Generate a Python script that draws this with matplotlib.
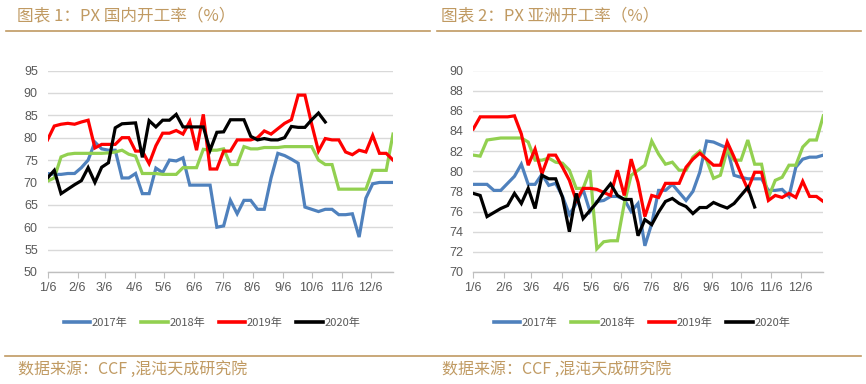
import matplotlib
matplotlib.use("Agg")
import matplotlib.pyplot as plt
from matplotlib.lines import Line2D

plt.rcParams['font.family'] = ['Noto Sans CJK SC', 'DejaVu Sans']

# ---- data ----
month_labels = ["1/6", "2/6", "3/6", "4/6", "5/6", "6/6", "7/6", "8/6", "9/6", "10/6", "11/6", "12/6"]
month_days = [6, 37, 65, 96, 126, 157, 187, 218, 249, 279, 310, 340]
years = ["2017年", "2018年", "2019年", "2020年"]
colors = ["#4f81bd", "#92d050", "#ff0000", "#000000"]

dom_2017 = [72, 71.8, 71.8, 72, 72, 73.3, 75, 79, 77.5, 77.2, 77.2, 71, 71, 72, 67.5, 67.5, 73.2, 72.2, 75, 74.8,
            75.5, 69.4, 69.4, 69.4, 69.4, 60, 60.3, 66, 63, 66, 66, 64, 64, 71, 76.5, 76, 75.2, 74.3, 64.5, 64,
            63.5, 64, 64, 62.8, 62.8, 63, 57.8, 66.5, 69.7, 70, 70, 70]
dom_2018 = [70.3, 71, 75.7, 76.3, 76.5, 76.5, 76.5, 76.5, 76.5, 76.6, 76.8, 77.2, 76.3, 75.9, 72, 72, 72, 71.8, 71.8, 71.8,
            73.3, 73.3, 73.3, 77.4, 77.2, 77.2, 77.5, 74, 74, 78, 77.5, 77.5, 77.8, 77.8, 77.8, 78, 78, 78, 78, 78,
            75, 74, 74, 68.5, 68.5, 68.5, 68.5, 68.5, 72.7, 72.7, 72.7, 80.8]
dom_2019 = [79.5, 82.6, 83, 83.2, 83, 83.5, 83.9, 77.7, 78.5, 78.5, 78.5, 80, 80, 77, 77, 74.2, 78.2, 81, 81, 81.6,
            80.8, 83.6, 77.2, 85.2, 73, 73, 77, 77, 79.5, 79.5, 79.5, 80, 81.5, 80.8, 82, 83.2, 84, 89.5, 89.5, 83,
            77, 79.8, 79.5, 79.5, 76.8, 76.2, 77.2, 76.8, 80.5, 76.5, 76.5, 75]
dom_2020 = [71, 72.7, 67.5, 68.5, 69.5, 70.4, 73.3, 70, 73.4, 74.4, 82.2, 83.1, 83.2, 83.3, 75.6, 83.8, 82.4, 83.9, 83.9, 85.2,
            82.4, 82.4, 82.4, 82.4, 77.2, 81.2, 81.3, 84, 84, 84, 80.3, 79.5, 79.8, 79.5, 79.5, 80, 82.5, 82.3, 82.3, 84,
            85.5, 83.5]

asia_2017 = [78.7, 78.7, 78.7, 78.1, 78.1, 78.8, 79.5, 80.7, 78.7, 78.7, 79.7, 78.6, 78.8, 77.5, 75.7, 76.8, 78.2, 76, 77, 77.1,
             77.5, 77.5, 77.2, 76, 76.8, 72.6, 74.8, 78.1, 78.1, 78.7, 77.9, 77.1, 78, 79.9, 83, 82.9, 82.6, 82.3, 79.6, 79.4,
             79.25, 79.25, 79.25, 78.1, 78.1, 78.2, 77.5, 80.4, 81.2, 81.4, 81.4, 81.6]
asia_2018 = [81.6, 81.5, 83.1, 83.2, 83.3, 83.3, 83.3, 83.3, 82.9, 81.1, 81.1, 81.3, 80.9, 80.8, 80.1, 78.3, 78.3, 80.1, 72.3, 73,
             73.1, 73.1, 76.8, 79.6, 80.1, 80.6, 83, 81.7, 80.7, 80.9, 80.1, 80.1, 81.4, 82, 81.1, 79.3, 79.6, 82.1, 81.1, 81.1,
             83.1, 80.7, 80.7, 77.4, 79.1, 79.4, 80.6, 80.6, 82.4, 83.1, 83.1, 85.5]
asia_2019 = [84.2, 85.4, 85.4, 85.4, 85.4, 85.4, 85.5, 83.7, 80.6, 82.2, 79.75, 81.6, 81.6, 80.4, 79.1, 77.1, 78.3, 78.3, 78.2, 77.9,
             77.6, 80.1, 77.6, 81.2, 78.9, 75.5, 77.6, 77.4, 78.8, 78.8, 78.8, 80.4, 81.2, 81.8, 81.2, 80.6, 80.6, 82.9, 81.4, 79.75,
             78.2, 79.9, 79.9, 77.1, 77.6, 77.4, 77.8, 77.4, 79, 77.5, 77.5, 77]
asia_2020 = [77.8, 77.6, 75.5, 75.9, 76.3, 76.6, 77.8, 76.8, 78.3, 76.3, 79.6, 79.25, 79.25, 77.4, 74, 77.8, 75.3, 76.1, 76.9, 77.9,
             78.75, 77.6, 77.2, 77.2, 73.6, 75.2, 74.7, 75.95, 77, 77.3, 76.8, 76.5, 75.8, 76.4, 76.4, 76.9, 76.6, 76.35, 76.8, 77.6,
             78.4, 76.45]

titles = ["图表 1：PX 国内开工率（%）", "图表 2：PX 亚洲开工率（%）"]
source = "数据来源：CCF ,混沌天成研究院"

# weekly x positions (day of year), starting Jan 6
def week_days(n):
    return [6 + 7 * k for k in range(n)]

gold = "#c09a62"
tick_col = "#595959"
grid_col = "#d9d9d9"

fig = plt.figure(figsize=(8.66, 3.84), dpi=100)
W, H = 866, 384
bottom = 1 - 272 / H
height = (272 - 70.5) / H
ax1 = fig.add_axes([47.5 / W, bottom, 345.5 / W, height])
ax2 = fig.add_axes([473.3 / W, bottom, 350 / W, height])

def style(ax, ylo, yhi, ystep, series):
    for vals, c in zip(series, colors):
        ax.plot(week_days(len(vals)), vals, color=c, lw=2.3, solid_joinstyle='miter')
    ax.set_xlim(6, 363)
    ax.set_ylim(ylo, yhi)
    ax.set_yticks(list(range(ylo, yhi + 1, ystep)))
    ax.set_xticks(month_days)
    ax.set_xticklabels(month_labels)
    ax.grid(axis='y', color=grid_col, lw=1.0)
    ax.set_axisbelow(True)
    for s in ['top', 'right', 'left']:
        ax.spines[s].set_visible(False)
    ax.spines['bottom'].set_color("#bfbfbf")
    ax.spines['bottom'].set_linewidth(1.0)
    ax.tick_params(axis='y', length=0, pad=7, labelsize=9, labelcolor=tick_col)
    ax.tick_params(axis='x', length=4, color="#bfbfbf", pad=3, labelsize=9, labelcolor=tick_col)
    for lab in ax.get_xticklabels() + ax.get_yticklabels():
        lab.set_family(['Liberation Sans', 'DejaVu Sans'])

style(ax1, 50, 95, 5, [dom_2017, dom_2018, dom_2019, dom_2020])
style(ax2, 70, 90, 2, [asia_2017, asia_2018, asia_2019, asia_2020])

handles = [Line2D([], [], color=c, lw=2.6) for c in colors]
for ax, cx in [(ax1, 212 / W), (ax2, 642 / W)]:
    ax.legend(handles, years, loc='center', bbox_to_anchor=(cx, 1 - 323 / H),
              bbox_transform=fig.transFigure, ncol=4, frameon=False,
              handlelength=2.4, handletextpad=0.15, columnspacing=1.2,
              prop={'family': ['Noto Sans CJK SC', 'DejaVu Sans'], 'size': 8},
              labelcolor=tick_col)

# titles and rules
fig.text(17 / W, 1 - 17 / H, titles[0], color=gold, fontsize=12, va='center', ha='left')
fig.text(441 / W, 1 - 17 / H, titles[1], color=gold, fontsize=12, va='center', ha='left')
fig.add_artist(Line2D([6 / W, 430 / W], [1 - 30.5 / H] * 2, color=gold, lw=1.2, transform=fig.transFigure))
fig.add_artist(Line2D([437 / W, 861 / W], [1 - 30.5 / H] * 2, color=gold, lw=1.2, transform=fig.transFigure))
fig.add_artist(Line2D([5 / W, 861 / W], [1 - 356 / H] * 2, color=gold, lw=1.2, transform=fig.transFigure))
fig.text(18 / W, 1 - 369 / H, source, color=gold, fontsize=11.5, va='center', ha='left')
fig.text(442 / W, 1 - 369 / H, source, color=gold, fontsize=11.5, va='center', ha='left')

fig.savefig("out.png", dpi=100)
